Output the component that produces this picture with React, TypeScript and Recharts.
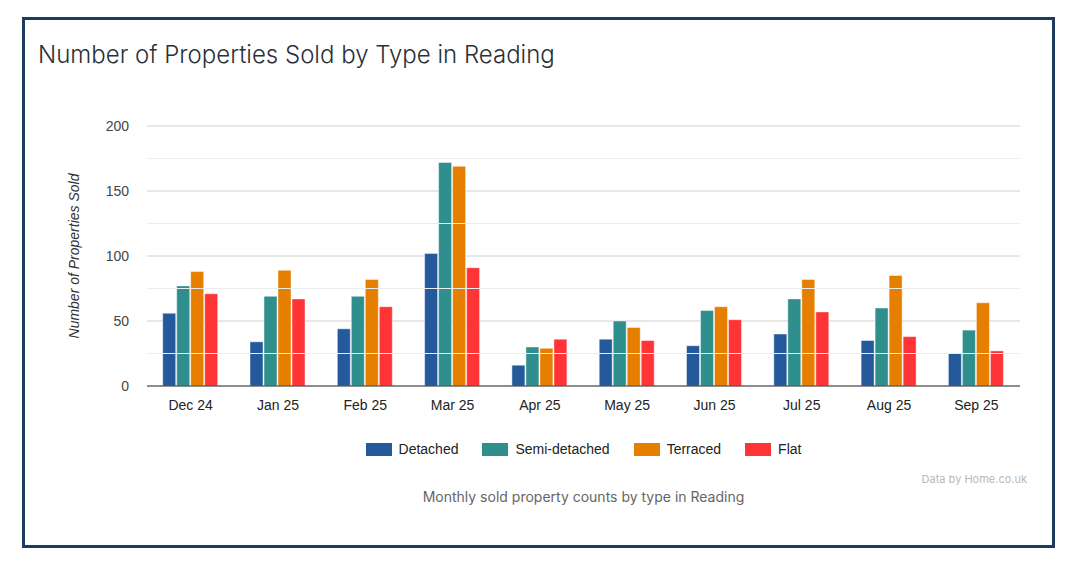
import React from 'react';
import { BarChart, Bar, XAxis, YAxis, CartesianGrid, ReferenceLine } from 'recharts';

const months = ['Dec 24', 'Jan 25', 'Feb 25', 'Mar 25', 'Apr 25', 'May 25', 'Jun 25', 'Jul 25', 'Aug 25', 'Sep 25'];
const detached = [56, 34, 44, 102, 16, 36, 31, 40, 35, 25];
const semiDetached = [77, 69, 69, 172, 30, 50, 58, 67, 60, 43];
const terraced = [88, 89, 82, 169, 29, 45, 61, 82, 85, 64];
const flat = [71, 67, 61, 91, 36, 35, 51, 57, 38, 27];
const yTicks = [0, 50, 100, 150, 200];
const minorTicks = [25, 75, 125, 175];

const series = [
  { key: 'detached', name: 'Detached', color: '#245a9c' },
  { key: 'semi', name: 'Semi-detached', color: '#2f8f8c' },
  { key: 'terraced', name: 'Terraced', color: '#e67e00' },
  { key: 'flat', name: 'Flat', color: '#fe3437' },
];

const data = months.map((m, i) => ({
  month: m,
  detached: detached[i],
  semi: semiDetached[i],
  terraced: terraced[i],
  flat: flat[i],
}));

export default function App() {
  return (
    <div style={{ position: 'absolute', left: 0, top: 0, width: 1074, height: 570, background: '#fff', fontFamily: 'Arial, "Liberation Sans", sans-serif' }}>
      <div style={{ position: 'absolute', left: 22, top: 17, width: 1027, height: 525, border: '3px solid #1d3b5f' }} />
      <div style={{ position: 'absolute', left: 38, top: 40, fontFamily: 'Inter, sans-serif', fontSize: 24, fontWeight: 300, color: '#2b2f38', whiteSpace: 'nowrap', letterSpacing: 0 }}>
        Number of Properties Sold by Type in Reading
      </div>
      <div style={{ position: 'absolute', left: 0, top: 0 }}>
        <BarChart width={1074} height={430} data={data} margin={{ top: 126, right: 54, left: 67, bottom: 14 }} barCategoryGap="18%" barGap={1}>
          <CartesianGrid vertical={false} stroke="#d0d0d0" />
          {minorTicks.map((t) => (
            <ReferenceLine key={t} y={t} stroke="#ececec" />
          ))}
          <XAxis dataKey="month" tickLine={false} axisLine={{ stroke: '#333' }} tick={{ fontSize: 14, fill: '#222' }} height={30} tickMargin={8} />
          <YAxis width={80} ticks={yTicks} domain={[0, 200]} tickLine={false} axisLine={false} tick={{ fontSize: 14, fill: '#444' }} tickMargin={12} />
          {series.map((s) => (
            <Bar key={s.key} dataKey={s.key} name={s.name} fill={s.color} stroke="rgba(255,255,255,0.45)" strokeWidth={1} isAnimationActive={false} />
          ))}
        </BarChart>
      </div>
      <div style={{ position: 'absolute', left: 74, top: 256, transform: 'translate(-50%, -50%) rotate(-90deg)', fontStyle: 'italic', fontSize: 14, color: '#333', whiteSpace: 'nowrap' }}>
        Number of Properties Sold
      </div>
      <div style={{ position: 'absolute', left: 0, top: 441, width: 1167, display: 'flex', justifyContent: 'center', gap: 24, fontSize: 14, color: '#222' }}>
        {series.map((s) => (
          <div key={s.key} style={{ display: 'flex', alignItems: 'center' }}>
            <div style={{ width: 26, height: 13, background: s.color, marginRight: 7 }} />
            <span>{s.name}</span>
          </div>
        ))}
      </div>
      <div style={{ position: 'absolute', right: 47, top: 472, fontFamily: 'Inter, sans-serif', fontSize: 11, color: '#b8b8b8' }}>Data by Home.co.uk</div>
      <div style={{ position: 'absolute', left: 0, width: 1167, top: 488, textAlign: 'center', fontFamily: 'Inter, sans-serif', fontSize: 14, color: '#666' }}>
        Monthly sold property counts by type in Reading
      </div>
    </div>
  );
}
